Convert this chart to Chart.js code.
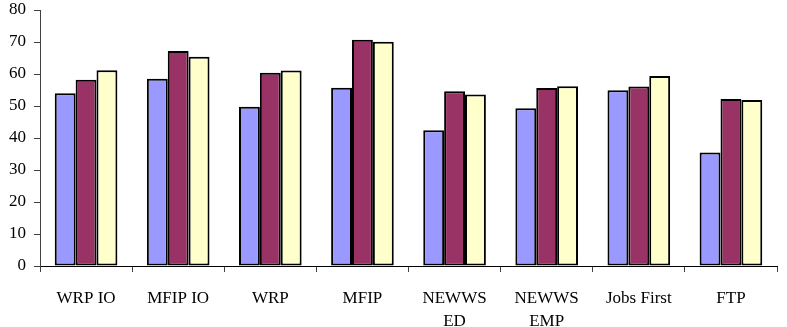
<!DOCTYPE html>
<html>
<head>
<meta charset="utf-8">
<script src="https://cdn.jsdelivr.net/npm/chart.js@4"></script>
<style>
  html, body { margin: 0; padding: 0; background: #fff; }
  #wrap { width: 787px; height: 327px; }
</style>
</head>
<body>
<div id="wrap"><canvas id="chart"></canvas></div>
<script>
const categories = ['WRP IO', 'MFIP IO', 'WRP', 'MFIP', ['NEWWS', 'ED'], ['NEWWS', 'EMP'], 'Jobs First', 'FTP'];
const seriesA = [54.0, 58.5, 49.8, 55.7, 42.4, 49.3, 54.9, 35.5];
const seriesB = [58.2, 67.2, 60.4, 70.7, 54.6, 55.6, 56.1, 52.2];
const seriesC = [61.2, 65.4, 61.1, 70.1, 53.6, 56.2, 59.4, 51.9];
const yTicks = [0, 10, 20, 30, 40, 50, 60, 70, 80];

const font = { family: '"Liberation Serif", "Times New Roman", serif', size: 17 };
const axisColor = '#404040';

function bars(label, data, color) {
  return {
    label, data,
    backgroundColor: color,
    borderColor: '#000',
    borderWidth: 2,
    borderSkipped: false,
    categoryPercentage: 0.68,
    barPercentage: 1.0
  };
}

new Chart(document.getElementById('chart'), {
  type: 'bar',
  data: {
    labels: categories,
    datasets: [
      bars('A', seriesA, '#9999FF'),
      bars('B', seriesB, '#993366'),
      bars('C', seriesC, '#FFFFCC')
    ]
  },
  options: {
    responsive: true,
    maintainAspectRatio: false,
    animation: false,
    layout: { padding: { top: 10, right: 10, bottom: 0, left: 0 } },
    plugins: { legend: { display: false }, tooltip: { enabled: false } },
    scales: {
      x: {
        grid: { display: true, offset: true, drawOnChartArea: false, drawTicks: true, tickLength: 6, color: axisColor, lineWidth: 1 },
        border: { display: true, color: '#000', width: 1 },
        ticks: { color: '#000', font: { ...font, lineHeight: 1.35 }, padding: 15, maxRotation: 0, autoSkip: false },
        afterFit: s => { s.height = 61; }
      },
      y: {
        min: 0, max: 80,
        afterBuildTicks: s => { s.ticks = yTicks.map(v => ({ value: v })); },
        grid: { display: true, drawOnChartArea: false, drawTicks: true, tickLength: 6, color: axisColor, lineWidth: 1 },
        border: { display: true, color: axisColor, width: 1 },
        ticks: { color: '#000', font, padding: 8 },
        afterFit: s => { s.width = 40; s.paddingTop = 0; s.paddingBottom = 0; }
      }
    }
  }
});
</script>
</body>
</html>
